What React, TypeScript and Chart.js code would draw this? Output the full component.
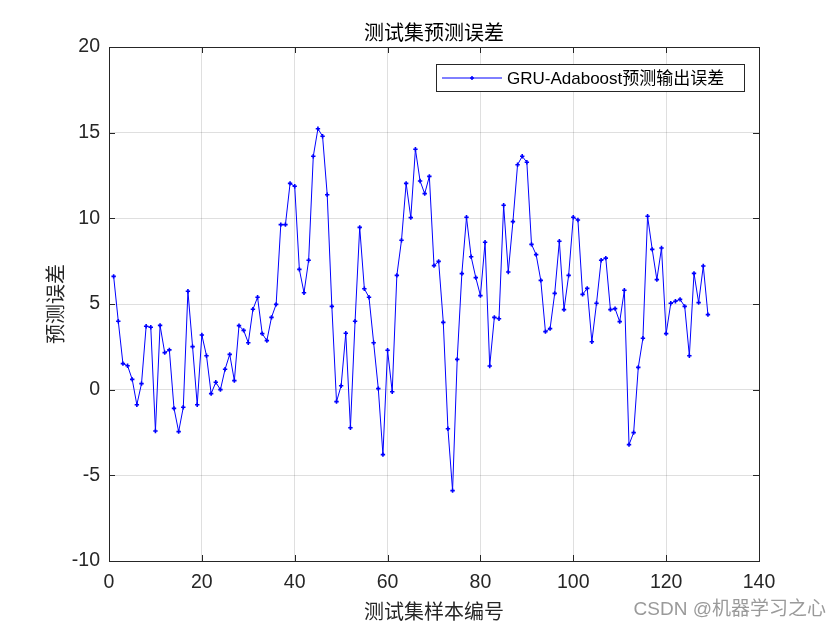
import React, { useEffect, useRef } from "react";
import { Chart, registerables } from "chart.js";

Chart.register(...registerables);

const chartTitle = "测试集预测误差";
const xAxisTitle = "测试集样本编号";
const yAxisTitle = "预测误差";
const seriesName = "GRU-Adaboost预测输出误差";
const watermark = "CSDN @机器学习之心";

const xTickValues = [0, 20, 40, 60, 80, 100, 120, 140];
const yTickValues = [-10, -5, 0, 5, 10, 15, 20];

const errors = [
  6.61, 3.99, 1.52, 1.4, 0.6, -0.88, 0.35, 3.7, 3.64, -2.41,
  3.75, 2.16, 2.32, -1.09, -2.45, -1.03, 5.74, 2.51, -0.88, 3.19,
  1.98, -0.23, 0.43, 0.0, 1.19, 2.06, 0.53, 3.74, 3.46, 2.74,
  4.69, 5.39, 3.27, 2.86, 4.22, 4.98, 9.63, 9.63, 12.04, 11.87,
  7.02, 5.66, 7.55, 13.62, 15.23, 14.79, 11.38, 4.86, -0.7, 0.23,
  3.29, -2.22, 3.99, 9.47, 5.89, 5.39, 2.74, 0.06, -3.79, 2.3,
  -0.12, 6.67, 8.72, 12.04, 10.04, 14.03, 12.18, 11.44, 12.45, 7.24,
  7.49, 3.93, -2.28, -5.89, 1.77, 6.77, 10.06, 7.76, 6.54, 5.49,
  8.6, 1.38, 4.22, 4.14, 10.76, 6.87, 9.81, 13.13, 13.62, 13.27,
  8.48, 7.88, 6.38, 3.39, 3.56, 5.62, 8.66, 4.67, 6.67, 10.06,
  9.9, 5.56, 5.91, 2.8, 5.04, 7.55, 7.68, 4.67, 4.73, 3.97,
  5.8, -3.21, -2.51, 1.3, 3.0, 10.12, 8.19, 6.42, 8.27, 3.27,
  5.04, 5.16, 5.27, 4.86, 1.98, 6.79, 5.08, 7.22, 4.38,
];

const sampleIds = errors.map((_, i) => i + 1);

const AXIS_COLOR = "#262626";
const LINE_COLOR = "#0000ff";
const LATIN_FONT = '"Liberation Sans", Arial, "Noto Sans CJK SC", sans-serif';
const CJK_FONT = '"Noto Sans CJK SC", "Liberation Sans", sans-serif';

const decorPlugin = {
  id: "matlabDecor",
  afterDraw(chart: any) {
    const { ctx, chartArea } = chart;
    const { left, right, top, bottom } = chartArea;
    const xs = chart.scales.x;
    const ys = chart.scales.y;
    ctx.save();
    ctx.strokeStyle = AXIS_COLOR;
    ctx.lineWidth = 1;
    ctx.strokeRect(Math.round(left) + 0.5, Math.round(top) + 0.5, Math.round(right - left), Math.round(bottom - top));
    const tl = 6;
    ctx.beginPath();
    xTickValues.forEach((v) => {
      const px = Math.round(xs.getPixelForValue(v)) + 0.5;
      ctx.moveTo(px, bottom);
      ctx.lineTo(px, bottom - tl);
      ctx.moveTo(px, top);
      ctx.lineTo(px, top + tl);
    });
    yTickValues.forEach((v) => {
      const py = Math.round(ys.getPixelForValue(v)) + 0.5;
      ctx.moveTo(left, py);
      ctx.lineTo(left + tl, py);
      ctx.moveTo(right, py);
      ctx.lineTo(right - tl, py);
    });
    ctx.stroke();

    ctx.fillStyle = "#000000";
    ctx.font = `20px ${CJK_FONT}`;
    ctx.textAlign = "center";
    ctx.textBaseline = "middle";
    ctx.fillText(chartTitle, (left + right) / 2, 32);

    const lx0 = 436.5, ly0 = 64.5, lx1 = 744.5, ly1 = 91.5;
    ctx.fillStyle = "#ffffff";
    ctx.fillRect(lx0, ly0, lx1 - lx0, ly1 - ly0);
    ctx.strokeStyle = AXIS_COLOR;
    ctx.lineWidth = 1;
    ctx.strokeRect(lx0, ly0, lx1 - lx0, ly1 - ly0);
    const my = 78;
    ctx.strokeStyle = LINE_COLOR;
    ctx.beginPath();
    ctx.moveTo(442, my);
    ctx.lineTo(502, my);
    ctx.stroke();
    ctx.lineWidth = 1.5;
    ctx.beginPath();
    ctx.moveTo(472 - 2, my);
    ctx.lineTo(472 + 2, my);
    ctx.moveTo(472, my - 2);
    ctx.lineTo(472, my + 2);
    ctx.stroke();
    ctx.fillStyle = "#000000";
    ctx.font = `17px ${LATIN_FONT}`;
    ctx.textAlign = "left";
    ctx.textBaseline = "middle";
    ctx.fillText(seriesName, 507, my + 1);

    ctx.fillStyle = "#9a9a9a";
    ctx.font = `19px ${LATIN_FONT}`;
    ctx.textAlign = "right";
    ctx.textBaseline = "middle";
    ctx.fillText(watermark, 826, 610);
    ctx.restore();
  },
};

export default function App() {
  const canvasRef = useRef<HTMLCanvasElement | null>(null);

  useEffect(() => {
    document.body.style.margin = "0";
    if (!canvasRef.current) return;
    const chart = new Chart(canvasRef.current, {
      type: "line",
      data: {
        datasets: [
          {
            label: seriesName,
            data: sampleIds.map((id, i) => ({ x: id, y: errors[i] })),
            borderColor: LINE_COLOR,
            backgroundColor: LINE_COLOR,
            borderWidth: 1,
            pointStyle: "cross",
            pointRadius: 2.2,
            pointBorderWidth: 1.6,
            pointBorderColor: LINE_COLOR,
            tension: 0,
            fill: false,
          },
        ],
      },
      options: {
        animation: false,
        responsive: true,
        maintainAspectRatio: false,
        layout: { padding: { left: 0, right: 81, top: 47, bottom: 0 } },
        plugins: {
          legend: { display: false },
          title: { display: false },
          tooltip: { enabled: false },
        },
        scales: {
          x: {
            type: "linear",
            min: 0,
            max: 140,
            afterFit: (scale: any) => {
              scale.height = 69;
            },
            afterBuildTicks: (scale: any) => {
              scale.ticks = xTickValues.map((v) => ({ value: v }));
            },
            grid: { color: "rgba(38,38,38,0.15)", drawTicks: false },
            border: { display: false },
            ticks: {
              color: AXIS_COLOR,
              font: { size: 19.5, family: LATIN_FONT },
              padding: 10,
              maxRotation: 0,
            },
            title: {
              display: true,
              text: xAxisTitle,
              color: AXIS_COLOR,
              font: { size: 20, family: CJK_FONT },
              padding: { top: 0, bottom: 7 },
            },
          },
          y: {
            type: "linear",
            min: -10,
            max: 20,
            afterFit: (scale: any) => {
              scale.width = 109;
            },
            afterBuildTicks: (scale: any) => {
              scale.ticks = yTickValues.map((v) => ({ value: v }));
            },
            grid: { color: "rgba(38,38,38,0.15)", drawTicks: false },
            border: { display: false },
            ticks: {
              color: AXIS_COLOR,
              font: { size: 19.5, family: LATIN_FONT },
              padding: 9,
            },
            title: {
              display: true,
              text: yAxisTitle,
              color: AXIS_COLOR,
              font: { size: 20, family: CJK_FONT },
              padding: { top: 43, bottom: 0 },
            },
          },
        },
      },
      plugins: [decorPlugin],
    });
    return () => chart.destroy();
  }, []);

  return (
    <div style={{ position: "absolute", left: 0, top: 0, width: 840, height: 630, background: "#ffffff" }}>
      <canvas ref={canvasRef} />
    </div>
  );
}
